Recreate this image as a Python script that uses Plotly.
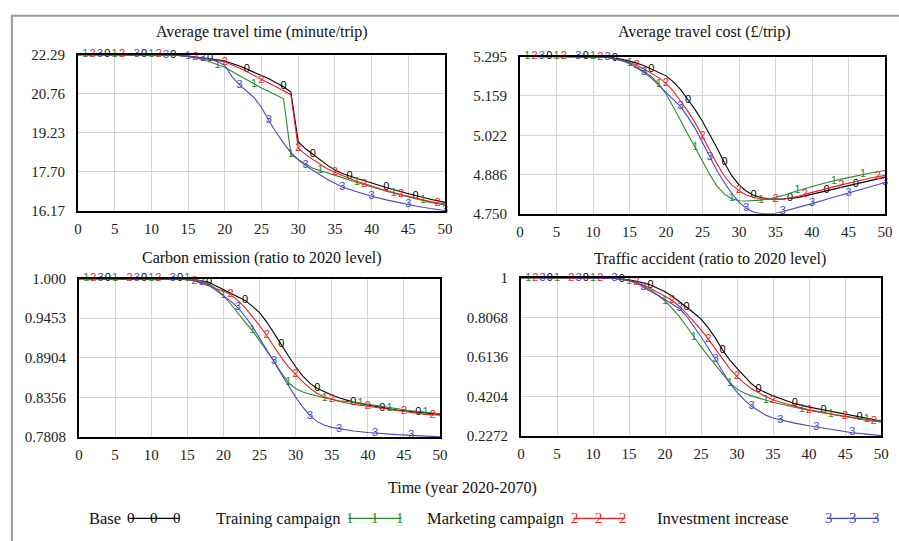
import numpy as np
import plotly.graph_objects as go

W, H = 899, 541

# ---------------- data ----------------
x_time = [0, 5, 10, 13, 15, 17, 18, 19, 20, 21, 22, 23, 24, 25, 26, 27, 28, 29, 30,
          31, 32, 33, 34, 35, 36, 38, 40, 42, 44, 46, 48, 50]
time_base = [22.29, 22.29, 22.29, 22.28, 22.23, 22.17, 22.14, 22.09, 22.04, 21.95, 21.84,
             21.72, 21.60, 21.47, 21.34, 21.19, 21.03, 20.82, 18.88, 18.60, 18.38, 18.15,
             17.95, 17.77, 17.63, 17.44, 17.25, 17.08, 16.92, 16.76, 16.62, 16.50]
time_train = [22.29, 22.29, 22.29, 22.28, 22.22, 22.10, 22.00, 21.88, 21.79, 21.63, 21.46,
              21.29, 21.12, 20.98, 20.84, 20.70, 20.56, 18.38, 18.17, 17.99, 17.84, 17.74,
              17.64, 17.56, 17.47, 17.28, 17.10, 16.94, 16.79, 16.64, 16.50, 16.40]
time_market = [22.29, 22.29, 22.29, 22.28, 22.22, 22.15, 22.11, 22.06, 22.00, 21.89, 21.76,
               21.62, 21.46, 21.30, 21.17, 21.03, 20.89, 20.72, 18.62, 18.38, 18.18, 17.98,
               17.81, 17.68, 17.55, 17.33, 17.13, 16.96, 16.81, 16.66, 16.53, 16.44]
time_invest = [22.29, 22.29, 22.29, 22.28, 22.22, 22.16, 22.10, 22.02, 21.86, 21.42, 21.10,
               20.85, 20.60, 20.22, 19.70, 19.25, 18.82, 18.45, 18.17, 17.94, 17.74, 17.57,
               17.40, 17.24, 17.10, 16.92, 16.74, 16.60, 16.47, 16.36, 16.26, 16.18]

x_cost = [0, 5, 10, 12, 14, 15, 16, 17, 18, 19, 20, 21, 22, 23, 24, 25, 26, 27, 28, 29,
          30, 31, 32, 33, 34, 35, 36, 38, 40, 42, 44, 46, 48, 50]
cost_base = [5.295, 5.295, 5.295, 5.293, 5.285, 5.279, 5.272, 5.263, 5.252, 5.241, 5.228,
             5.207, 5.180, 5.145, 5.110, 5.070, 5.025, 4.977, 4.927, 4.882, 4.850, 4.828,
             4.814, 4.806, 4.802, 4.801, 4.801, 4.806, 4.818, 4.831, 4.842, 4.853, 4.865, 4.877]
cost_train = [5.295, 5.295, 5.295, 5.292, 5.280, 5.270, 5.258, 5.243, 5.225, 5.200, 5.165,
              5.120, 5.070, 5.025, 4.979, 4.930, 4.885, 4.845, 4.818, 4.802, 4.795, 4.794,
              4.795, 4.797, 4.801, 4.806, 4.813, 4.830, 4.845, 4.858, 4.870, 4.881, 4.891, 4.900]
cost_market = [5.295, 5.295, 5.295, 5.292, 5.282, 5.274, 5.265, 5.252, 5.238, 5.222, 5.202,
               5.175, 5.140, 5.105, 5.065, 5.020, 4.970, 4.922, 4.880, 4.850, 4.830, 4.815,
               4.806, 4.801, 4.799, 4.799, 4.800, 4.810, 4.824, 4.838, 4.850, 4.862, 4.874, 4.883]
cost_invest = [5.295, 5.295, 5.295, 5.292, 5.282, 5.272, 5.257, 5.239, 5.220, 5.196, 5.170,
               5.148, 5.121, 5.085, 5.045, 4.997, 4.947, 4.898, 4.858, 4.820, 4.790, 4.768,
               4.756, 4.751, 4.750, 4.751, 4.758, 4.771, 4.785, 4.800, 4.815, 4.829, 4.843, 4.858]

x_ratio = [0, 5, 10, 13, 15, 16, 17, 18, 19, 20, 21, 22, 23, 24, 25, 26, 27, 28, 29, 30,
           31, 32, 33, 34, 35, 36, 38, 40, 42, 44, 46, 48, 50]
carbon_base = [1.0, 1.0, 1.0, 1.0, 1.0, 0.999, 0.997, 0.995, 0.990, 0.985, 0.980, 0.975,
               0.970, 0.962, 0.953, 0.940, 0.925, 0.909, 0.893, 0.878, 0.865, 0.855, 0.848,
               0.843, 0.839, 0.835, 0.829, 0.825, 0.821, 0.818, 0.816, 0.814, 0.812]
carbon_train = [1.0, 1.0, 1.0, 1.0, 1.0, 0.999, 0.997, 0.993, 0.986, 0.977, 0.965, 0.952,
                0.940, 0.928, 0.914, 0.900, 0.886, 0.870, 0.856, 0.848, 0.843, 0.840, 0.837,
                0.835, 0.833, 0.831, 0.829, 0.826, 0.822, 0.819, 0.817, 0.815, 0.813]
carbon_market = [1.0, 1.0, 1.0, 1.0, 0.999, 0.997, 0.994, 0.990, 0.986, 0.983, 0.978, 0.970,
                 0.960, 0.948, 0.935, 0.921, 0.906, 0.891, 0.878, 0.867, 0.857, 0.848, 0.841,
                 0.836, 0.833, 0.830, 0.826, 0.823, 0.820, 0.817, 0.815, 0.812, 0.811]
carbon_invest = [1.0, 1.0, 1.0, 1.0, 0.999, 0.997, 0.995, 0.991, 0.984, 0.976, 0.969, 0.960,
                 0.948, 0.934, 0.918, 0.902, 0.885, 0.868, 0.852, 0.836, 0.822, 0.810, 0.802,
                 0.797, 0.794, 0.792, 0.789, 0.787, 0.785, 0.784, 0.783, 0.782, 0.781]

acc_base = [1.0, 1.0, 1.0, 0.998, 0.990, 0.983, 0.975, 0.965, 0.950, 0.932, 0.910, 0.885,
            0.856, 0.828, 0.798, 0.755, 0.705, 0.646, 0.598, 0.557, 0.518, 0.482, 0.455,
            0.437, 0.423, 0.410, 0.385, 0.368, 0.354, 0.340, 0.327, 0.314, 0.300]
acc_train = [1.0, 1.0, 1.0, 0.997, 0.985, 0.975, 0.960, 0.940, 0.915, 0.886, 0.850, 0.810,
             0.762, 0.710, 0.662, 0.617, 0.573, 0.528, 0.487, 0.456, 0.437, 0.423, 0.412,
             0.402, 0.392, 0.383, 0.367, 0.352, 0.340, 0.328, 0.318, 0.308, 0.297]
acc_market = [1.0, 1.0, 1.0, 0.998, 0.986, 0.977, 0.965, 0.948, 0.930, 0.910, 0.889, 0.860,
              0.825, 0.787, 0.745, 0.700, 0.650, 0.600, 0.555, 0.517, 0.485, 0.458, 0.437,
              0.419, 0.404, 0.392, 0.373, 0.355, 0.343, 0.327, 0.316, 0.303, 0.295]
acc_invest = [1.0, 1.0, 1.0, 0.998, 0.988, 0.978, 0.952, 0.935, 0.915, 0.893, 0.872, 0.850,
              0.812, 0.765, 0.712, 0.657, 0.600, 0.540, 0.485, 0.440, 0.403, 0.372, 0.348,
              0.328, 0.315, 0.306, 0.290, 0.277, 0.266, 0.255, 0.243, 0.236, 0.229]

x_ticks = [0, 5, 10, 15, 20, 25, 30, 35, 40, 45, 50]
time_ticks = [16.17, 17.70, 19.23, 20.76, 22.29]
time_ticktext = ["16.17", "17.70", "19.23", "20.76", "22.29"]
cost_ticks = [4.750, 4.886, 5.022, 5.159, 5.295]
cost_ticktext = ["4.750", "4.886", "5.022", "5.159", "5.295"]
carbon_ticks = [0.7808, 0.8356, 0.8904, 0.9453, 1.000]
carbon_ticktext = ["0.7808", "0.8356", "0.8904", "0.9453", "1.000"]
acc_ticks = [0.2272, 0.4204, 0.6136, 0.8068, 1.0]
acc_ticktext = ["0.2272", "0.4204", "0.6136", "0.8068", "1"]

scenario_names = ["Base", "Training campaign", "Marketing campaign", "Investment increase"]
scenario_digits = ["0", "1", "2", "3"]
scenario_colors = ["#000000", "#2a8a2a", "#f01e1e", "#4848c4"]

# marker positions (years) for the digit labels, per scenario
top_marks = [[4, 9, 13, 18, 23, 28, 32, 37, 42, 46],
             [1, 5, 10, 15, 19, 24, 29, 33, 38, 43, 47],
             [2, 6, 11, 16, 20, 25, 30, 35, 39, 44, 49],
             [3, 8, 12, 17, 22, 26, 31, 36, 40, 45, 50]]
bottom_marks = [[4, 9, 14, 18, 23, 28, 33, 38, 42, 47],
                [1, 5, 10, 15, 20, 24, 29, 34, 39, 43, 48],
                [2, 7, 11, 16, 21, 26, 30, 35, 40, 45, 49],
                [3, 8, 13, 17, 22, 27, 32, 36, 41, 46]]

SERIF = "Liberation Serif"
SANS = "Liberation Sans"

panels = [
    dict(title="Average travel time (minute/trip)", x=x_time,
         series=[time_base, time_train, time_market, time_invest],
         ticks=time_ticks, ticktext=time_ticktext, box=(75, 48, 447, 209),
         title_xy=(261, 25), marks=top_marks),
    dict(title="Average travel cost (£/trip)", x=x_cost,
         series=[cost_base, cost_train, cost_market, cost_invest],
         ticks=cost_ticks, ticktext=cost_ticktext, box=(523, 50, 893, 212),
         title_xy=(710, 25), marks=top_marks),
    dict(title="Carbon emission (ratio to 2020 level)", x=x_ratio,
         series=[carbon_base, carbon_train, carbon_market, carbon_invest],
         ticks=carbon_ticks, ticktext=carbon_ticktext, box=(76, 279, 442, 442),
         title_xy=(261, 258), marks=bottom_marks),
    dict(title="Traffic accident (ratio to 2020 level)", x=x_ratio,
         series=[acc_base, acc_train, acc_market, acc_invest],
         ticks=acc_ticks, ticktext=acc_ticktext, box=(524, 278, 889, 441),
         title_xy=(716, 259), marks=bottom_marks),
]

fig = go.Figure()
annotations = []
shapes = []


def anno(text, px, py, size, color="#111", family=SERIF, xanchor="center"):
    return dict(text=text, x=px / W, y=1 - py / H, xref="paper", yref="paper",
                showarrow=False, xanchor=xanchor, yanchor="middle",
                font=dict(family=family, size=size, color=color))


for i, p in enumerate(panels):
    n = i + 1
    xa = "x" if n == 1 else f"x{n}"
    ya = "y" if n == 1 else f"y{n}"
    x0, y0, x1, y1 = p["box"]
    for s in range(4):
        yvals = p["series"][s]
        fig.add_trace(go.Scatter(
            x=p["x"], y=yvals, mode="lines", xaxis=xa, yaxis=ya,
            line=dict(color=scenario_colors[s], width=1.1), showlegend=False,
            hoverinfo="skip"))
        mx = p["marks"][s]
        my = np.interp(mx, p["x"], yvals)
        fig.add_trace(go.Scatter(
            x=mx, y=my, mode="text", text=[scenario_digits[s]] * len(mx),
            textposition="middle center", xaxis=xa, yaxis=ya,
            textfont=dict(family=SANS, size=11, color=scenario_colors[s]),
            showlegend=False, hoverinfo="skip", cliponaxis=False))
    lo, hi = p["ticks"][0], p["ticks"][-1]
    axis_common = dict(showgrid=True, gridcolor="#d4d4d4", gridwidth=1,
                       showline=True, linecolor="black", linewidth=2, mirror=True,
                       zeroline=False, ticks="",
                       tickfont=dict(family=SERIF, size=15, color="#222"))
    fig.layout[f"xaxis{'' if n == 1 else n}"] = dict(
        domain=[x0 / W, x1 / W], range=[0, 50], tickvals=x_ticks,
        anchor=ya, ticklabelstandoff=3, **axis_common)
    fig.layout[f"yaxis{'' if n == 1 else n}"] = dict(
        domain=[1 - y1 / H, 1 - y0 / H], range=[lo, hi], tickvals=p["ticks"],
        ticktext=p["ticktext"], anchor=xa, ticklabelstandoff=8, **axis_common)
    tx, ty = p["title_xy"]
    annotations.append(anno(p["title"], tx, ty, 16))

# shared x title
annotations.append(anno("Time (year 2020-2070)", 465, 495, 16))

# custom legend
leg_y = 526
leg_items = [(84, 125, 179), (213, 347, 405), (427, 575, 631), (660, 832, 888)]
for s, (tx, lx0, lx1) in enumerate(leg_items):
    annotations.append(anno(scenario_names[s], tx, leg_y, 16.5, xanchor="left"))
    shapes.append(dict(type="line", xref="paper", yref="paper",
                       x0=(lx0 + 2) / W, x1=(lx1 - 2) / W, y0=1 - leg_y / H, y1=1 - leg_y / H,
                       line=dict(color=scenario_colors[s], width=1.2)))
    for px in (lx0 + 4, (lx0 + lx1) / 2, lx1 - 4):
        annotations.append(anno(scenario_digits[s], px, leg_y, 15,
                                color=scenario_colors[s]))

# outer frame
shapes.append(dict(type="rect", xref="paper", yref="paper",
                   x0=8 / W, x1=1.02, y0=-0.02, y1=1 - 8 / H,
                   line=dict(color="#9a9a9a", width=2)))

fig.update_layout(width=W, height=H, margin=dict(l=0, r=0, t=0, b=0),
                  paper_bgcolor="white", plot_bgcolor="white",
                  annotations=annotations, shapes=shapes, showlegend=False)

fig.write_html("out.html")
